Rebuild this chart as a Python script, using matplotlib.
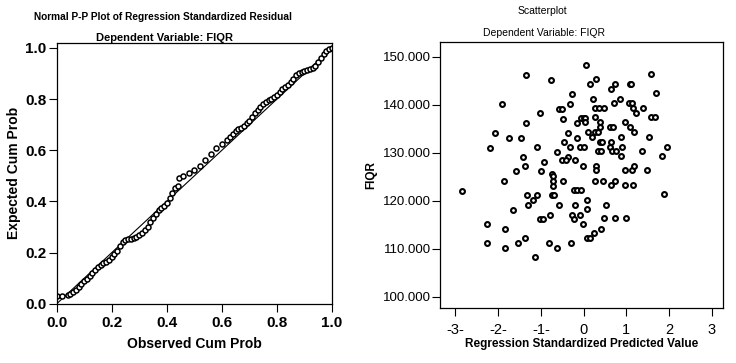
import numpy as np
import matplotlib.pyplot as plt

# ---- P-P plot values (observed cum prob, expected cum prob)
pp_observed = [0.00, 0.02, 0.04, 0.05, 0.06, 0.07, 0.08, 0.09, 0.10, 0.11,
               0.12, 0.13, 0.14, 0.15, 0.16, 0.17, 0.18, 0.19, 0.20, 0.21,
               0.22, 0.23, 0.24, 0.25, 0.26, 0.27, 0.28, 0.29, 0.30, 0.31,
               0.32, 0.33, 0.34, 0.35, 0.36, 0.37, 0.38, 0.39, 0.40, 0.41,
               0.42, 0.43, 0.44, 0.445, 0.46, 0.48, 0.50, 0.52, 0.54, 0.56,
               0.58, 0.60, 0.62, 0.63, 0.64, 0.65, 0.66, 0.67, 0.68, 0.69,
               0.70, 0.71, 0.72, 0.73, 0.74, 0.75, 0.76, 0.77, 0.78, 0.79,
               0.80, 0.81, 0.82, 0.83, 0.84, 0.85, 0.86, 0.87, 0.88, 0.89,
               0.90, 0.91, 0.92, 0.93, 0.94, 0.95, 0.96, 0.97, 0.98, 0.99,
               1.00]
pp_expected = [0.030, 0.032, 0.035, 0.038, 0.045, 0.055, 0.065, 0.078, 0.088, 0.098,
               0.108, 0.120, 0.132, 0.145, 0.152, 0.158, 0.164, 0.172, 0.182, 0.194,
               0.208, 0.225, 0.240, 0.248, 0.252, 0.255, 0.258, 0.262, 0.268, 0.277,
               0.288, 0.302, 0.318, 0.335, 0.352, 0.365, 0.374, 0.382, 0.395, 0.415,
               0.435, 0.452, 0.462, 0.490, 0.500, 0.510, 0.522, 0.540, 0.562, 0.585,
               0.608, 0.625, 0.640, 0.652, 0.665, 0.675, 0.682, 0.688, 0.695, 0.705,
               0.715, 0.730, 0.745, 0.758, 0.770, 0.780, 0.788, 0.795, 0.802, 0.810,
               0.818, 0.828, 0.838, 0.847, 0.856, 0.865, 0.880, 0.895, 0.902, 0.905,
               0.908, 0.912, 0.916, 0.920, 0.928, 0.945, 0.962, 0.978, 0.988, 0.995,
               1.000]

# ---- scatterplot values (standardized predicted value, FIQR)
sc_pred = [-1.34, -0.76, -0.27, -1.92, -1.02, -0.58, -0.51, -0.31, -0.48, -1.34,
           -2.08, -1.75, -1.46, -0.37, -2.20, -1.09, -0.45, -0.32, -0.15, -0.62,
           -1.42, -0.37, -0.50, -0.42, -0.20, -0.93, -1.37, -1.59, -0.99, -0.73,
           -0.02, -0.16, -0.06, 0.00, 0.04, 0.03, -0.08, 0.00, 0.06, 1.58,
           0.30, 0.16, 0.74, 0.64, 1.10, 1.12, 1.70, 0.23, 0.71, 0.85,
           1.06, 1.14, 1.16, 1.22, 1.39, 0.26, 0.37, 0.49, 1.57, 1.68,
           0.26, 0.39, 0.39, 0.98, 1.08, 1.19, 0.61, 0.68, 0.11, 0.20,
           0.27, 0.35, 0.87, 1.54, 0.39, 0.44, 0.65, 0.33, 0.42, 0.62,
           0.66, 0.75, 0.91, 0.88, 1.38, 1.96, 1.85, 0.30, 0.30, 0.98,
           1.14, 1.19, 1.49, -1.87, -0.71, -0.71, -0.71, -0.47, -2.85, -1.33,
           -1.09, -1.18, -0.73, -0.68, -0.23, -0.16, -0.07, -1.30, -0.58, -0.19,
           -1.66, -0.78, -0.27, -0.23, -0.09, -1.03, -0.94, -2.25, -0.02, -1.83,
           -2.26, -1.53, -1.38, -0.80, -0.63, -0.30, -1.84, -1.13, 0.26, 0.45,
           0.65, 0.74, 0.98, 1.17, 1.89, 0.08, 0.52, 0.08, 0.49, 0.74,
           1.00, 0.41, 0.24, 0.09, 0.15]
sc_fiqr = [146.2, 145.1, 142.3, 140.1, 138.2, 139.2, 139.2, 140.2, 137.1, 136.1,
           134.0, 133.0, 133.0, 134.2, 131.0, 131.1, 132.2, 131.2, 133.1, 130.1,
           129.1, 129.2, 128.4, 128.4, 128.4, 128.1, 127.2, 126.1, 126.2, 125.6,
           127.3, 136.2, 137.2, 137.3, 137.3, 136.3, 131.2, 131.2, 148.3, 146.3,
           145.3, 144.3, 144.3, 143.3, 144.3, 144.3, 142.4, 141.25, 140.35, 141.25,
           140.35, 140.35, 139.3, 138.3, 139.3, 139.3, 139.3, 139.3, 137.4, 137.4,
           137.4, 136.3, 135.3, 136.3, 135.3, 134.3, 135.3, 135.3, 134.3, 133.3,
           134.3, 134.3, 133.3, 133.3, 132.3, 132.3, 132.3, 130.3, 130.3, 131.25,
           130.3, 130.3, 131.25, 129.3, 130.3, 131.25, 129.3, 127.3, 126.3, 126.3,
           126.3, 127.3, 126.3, 124.1, 125.2, 124.1, 123.1, 124.2, 122.0, 121.1,
           121.1, 120.1, 121.2, 121.2, 122.15, 122.15, 122.15, 119.1, 119.1, 119.2,
           118.1, 117.1, 117.1, 116.2, 117.1, 116.1, 116.1, 115.1, 115.1, 114.1,
           111.1, 111.2, 112.2, 111.25, 110.2, 111.25, 110.1, 108.2, 124.2, 124.2,
           123.3, 124.2, 123.3, 123.3, 121.3, 120.2, 119.2, 118.2, 116.3, 116.3,
           116.3, 114.2, 113.3, 112.3, 112.3]

pp_ticks = [0.0, 0.2, 0.4, 0.6, 0.8, 1.0]
sc_yticks = [100, 110, 120, 130, 140, 150]
sc_xticks = [-3, -2, -1, 0, 1, 2, 3]
sc_xticklabels = ['-3-', '-2-', '-1-', '0', '1', '2', '3']

plt.rcParams['font.family'] = ['Liberation Sans', 'DejaVu Sans']

fig = plt.figure(figsize=(7.36, 3.63), dpi=100)

# left panel: normal P-P plot
ax1 = fig.add_axes([0.077, 0.163, 0.374, 0.719])
ax1.plot([0, 1], [0, 1], color='black', linewidth=0.8, zorder=1)
ax1.plot(pp_observed, pp_expected, linestyle='none', marker='o',
         markersize=3.6, markerfacecolor='white', markeredgecolor='black',
         markeredgewidth=1.1, zorder=2)
ax1.set_xlim(0, 1)
ax1.set_ylim(0, 1.02)
ax1.set_xticks(pp_ticks)
ax1.set_yticks(pp_ticks)
ax1.set_xticklabels(["%.1f" % t for t in pp_ticks], fontweight='bold', fontsize=11)
ax1.set_yticklabels(["%.1f" % t for t in pp_ticks], fontweight='bold', fontsize=11)
ax1.tick_params(direction='out', length=6, width=0.8, pad=1.5)
ax1.tick_params(axis='x', pad=3)
ax1.set_xlabel("Observed Cum Prob", fontweight='bold', fontsize=10, labelpad=5)
ax1.set_ylabel("Expected Cum Prob", fontweight='bold', fontsize=10, labelpad=3)
for s in ax1.spines.values():
    s.set_linewidth(0.9)

fig.text(0.222, 0.954, "Normal P-P Plot of Regression Standardized Residual",
         ha='center', va='center', fontweight='bold', fontsize=7.3)
fig.text(0.223, 0.896, "Dependent Variable: FIQR",
         ha='center', va='center', fontweight='bold', fontsize=8)

# right panel: scatterplot
ax2 = fig.add_axes([0.598, 0.152, 0.385, 0.733])
ax2.plot(sc_pred, sc_fiqr, linestyle='none', marker='o',
         markersize=3.5, markerfacecolor='white', markeredgecolor='black',
         markeredgewidth=1.5)
ax2.set_xlim(-3.36, 3.28)
ax2.set_ylim(97.7, 153.1)
ax2.set_xticks(sc_xticks)
ax2.set_xticklabels(sc_xticklabels, fontsize=10.5)
ax2.set_yticks(sc_yticks)
ax2.set_yticklabels(["%.3f" % v for v in sc_yticks], fontsize=9.5)
ax2.tick_params(direction='out', length=6, width=0.8)
ax2.tick_params(axis='x', pad=5)
ax2.tick_params(axis='y', pad=0.5)
ax2.set_xlabel("Regression Standardized Predicted Value", fontweight='bold',
               fontsize=8.5, labelpad=1)
ax2.set_ylabel("FIQR", fontweight='bold', fontsize=8.5, labelpad=4)
for s in ax2.spines.values():
    s.set_linewidth(0.9)

fig.text(0.737, 0.970, "Scatterplot", ha='center', va='center', fontsize=7.5)
fig.text(0.739, 0.909, "Dependent Variable: FIQR", ha='center', va='center',
         fontsize=7.5)

plt.savefig("out.png", dpi=100)
